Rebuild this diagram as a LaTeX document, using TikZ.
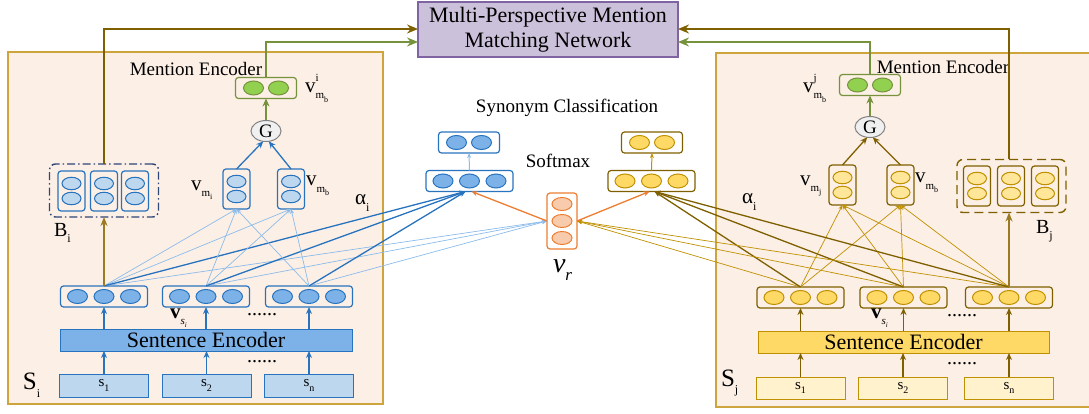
\documentclass[tikz,border=0pt]{standalone}
\usepackage{fontspec}
\setmainfont{Liberation Serif}
\usetikzlibrary{shapes.geometric,arrows.meta,calc}

% palette
\definecolor{panelfill}{RGB}{252,239,230}
\definecolor{panelline}{RGB}{205,165,60}
\definecolor{blueD}{RGB}{40,115,190}
\definecolor{blueM}{RGB}{125,178,232}
\definecolor{blueL}{RGB}{189,215,238}
\definecolor{blueLine}{RGB}{140,188,235}
\definecolor{navyD}{RGB}{47,70,120}
\definecolor{goldD}{RGB}{191,144,0}
\definecolor{brownD}{RGB}{127,96,0}
\definecolor{yelM}{RGB}{255,217,102}
\definecolor{yelL}{RGB}{255,230,153}
\definecolor{yelP}{RGB}{255,242,204}
\definecolor{grnF}{RGB}{146,208,80}
\definecolor{grnD}{RGB}{118,146,60}
\definecolor{orgD}{RGB}{237,125,49}
\definecolor{orgL}{RGB}{248,203,173}
\definecolor{lavF}{RGB}{204,193,218}
\definecolor{lavD}{RGB}{128,100,162}
\definecolor{gateF}{RGB}{240,240,240}
\definecolor{gateD}{RGB}{128,128,128}
\definecolor{feedBr}{RGB}{155,122,35}

% lowered small text for subscripts
\newcommand{\lsub}[2]{\raisebox{-0.3em}{\fontsize{#1}{#1}\selectfont #2}}
\newcommand{\vlab}[1]{v\lsub{11}{m\lsub{8}{#1}}}
\newcommand{\vlabsup}[2]{v\rlap{\raisebox{0.55em}{\fontsize{11}{11}\selectfont #1}}\lsub{11}{m\lsub{8}{#2}}}

% vector boxes: name, cx, cy, box style, cell style
\newcommand{\hvecthree}[5]{%
  \node[vbox,#4,minimum width=87pt,minimum height=21pt] (#1) at (#2,#3) {};
  \foreach \k/\dx in {a/-26.5,b/0,c/26.5}
    \node[#5] (#1\k) at (#2+\dx,#3) {};
}
\newcommand{\hvectwo}[5]{%
  \node[vbox,#4,minimum width=61pt,minimum height=21pt] (#1) at (#2,#3) {};
  \foreach \k/\dx in {a/-12.5,b/12.5}
    \node[#5] (#1\k) at (#2+\dx,#3) {};
}
\newcommand{\vvectwo}[5]{%
  \node[vbox,#4,minimum width=27pt,minimum height=40pt] (#1) at (#2,#3) {};
  \foreach \k/\dy in {a/-7.5,b/7.5}
    \node[#5,minimum width=19pt,minimum height=12.5pt] (#1\k) at (#2,#3+\dy) {};
}

\tikzset{
  x=1pt, y=-1pt,
  every node/.style={inner sep=0pt, outer sep=0pt},
  panel/.style={draw=panelline, fill=panelfill, line width=1.2pt},
  vbox/.style={rectangle, rounded corners=3pt, line width=1.2pt},
  bbox/.style={draw=blueD},
  ybox/.style={draw=brownD},
  gbox/.style={draw=grnD},
  obox/.style={draw=orgD},
  cell/.style={ellipse, line width=1pt, minimum width=20pt, minimum height=14pt},
  bcellM/.style={cell, draw=blueD, fill=blueM},
  bcellL/.style={cell, draw=blueD, fill=blueL},
  ycellM/.style={cell, draw=goldD, fill=yelM},
  ycellL/.style={cell, draw=goldD, fill=yelL},
  gcell/.style={cell, draw=grnD, fill=grnF},
  ocell/.style={cell, draw=orgD, fill=orgL, minimum height=13pt},
  sboxB/.style={rectangle, draw=blueD, fill=blueL, line width=1pt,
    minimum width=89pt, minimum height=23pt, font=\fontsize{15}{15}\selectfont},
  sboxY/.style={rectangle, draw=goldD, fill=yelP, line width=1pt,
    minimum width=89pt, minimum height=22pt, font=\fontsize{15}{15}\selectfont},
  encB/.style={rectangle, draw=blueD, fill=blueM, line width=1pt,
    minimum width=292pt, minimum height=22pt, font=\fontsize{22}{22}\selectfont},
  encY/.style={rectangle, draw=goldD, fill=yelM, line width=1pt,
    minimum width=291pt, minimum height=22pt, font=\fontsize{22}{22}\selectfont},
  bag/.style={rectangle, rounded corners=6pt, line width=1.4pt,
    minimum width=109pt, minimum height=53pt},
  gate/.style={ellipse, draw=gateD, fill=gateF, line width=1pt,
    minimum width=30pt, minimum height=21pt, font=\fontsize{19}{19}\selectfont},
  title/.style={font=\fontsize{19}{19}\selectfont},
  lab/.style={anchor=west, font=\fontsize{21}{21}\selectfont},
  dots/.style={font=\fontsize{20}{20}\selectfont},
  upB/.style={draw=blueD, line width=1.3pt, -{Stealth[length=7pt,width=6pt]}},
  upY/.style={draw=brownD, line width=1.3pt, -{Stealth[length=7pt,width=6pt]}},
  upG/.style={draw=grnD, line width=1.6pt, -{Stealth[length=8pt,width=7pt]}},
  upF/.style={draw=feedBr, line width=1.6pt, -{Stealth[length=9pt,width=7pt]}},
  attB/.style={draw=blueLine, line width=0.7pt, -{Stealth[length=5pt,width=4pt]}},
  attY/.style={draw=goldD, line width=0.7pt, -{Stealth[length=5pt,width=4pt]}},
  clsB/.style={draw=blueD, line width=1.3pt, -{Stealth[length=6pt,width=5pt]}},
  clsY/.style={draw=brownD, line width=1.3pt, -{Stealth[length=6pt,width=5pt]}},
  orgA/.style={draw=orgD, line width=1.3pt, -{Stealth[length=6pt,width=5pt]}},
  feedY/.style={draw=brownD, line width=1.6pt, -{Stealth[length=11pt,width=9pt]}},
  feedG/.style={draw=grnD, line width=1.6pt, -{Stealth[length=11pt,width=9pt]}},
}

\begin{document}
\begin{tikzpicture}
\useasboundingbox (0,0) rectangle (1089,414);
\clip (0,0) rectangle (1089,414);

% ---------- panels ----------
\path[panel] (8,52) rectangle (383,404);
\path[panel] (716,53) rectangle (1095,407);

% ---------- matching network ----------
\node[draw=lavD, fill=lavF, line width=1.2pt, minimum width=260pt, minimum height=55pt,
      align=center, font=\fontsize{22}{25}\selectfont] (mpm) at (548,29.5)
      {Multi-Perspective Mention\\Matching Network};

% ---------- left mention encoder ----------
\node[title] (lme) at (196,69) {Mention Encoder};
\node[sboxB] (ls1) at (104,385.5) {s\lsub{10}{1}};
\node[sboxB] (ls2) at (206.5,385.5) {s\lsub{10}{2}};
\node[sboxB] (lsn) at (309,385.5) {s\lsub{10}{n}};
\node[encB] (lenc) at (206,340) {Sentence Encoder};
\hvecthree{lv1}{104}{296.5}{bbox}{bcellM}
\hvecthree{lv2}{206}{296.5}{bbox}{bcellM}
\hvecthree{lv3}{309}{296.5}{bbox}{bcellM}
\node[bag, draw=navyD, dash pattern=on 8pt off 3pt on 1.5pt off 3pt] (Bi) at (104,190.5) {};
\vvectwo{bi1}{71.5}{191}{bbox}{bcellL}
\vvectwo{bi2}{104}{191}{bbox}{bcellL}
\vvectwo{bi3}{135}{191}{bbox}{bcellL}
\vvectwo{lmi}{236.5}{189}{bbox}{bcellL}
\vvectwo{lmb}{291}{189}{bbox}{bcellL}
\node[gate] (lG) at (266,131) {G};
\hvectwo{lgr}{266}{88}{gbox}{gcell}

\node[anchor=west, font=\fontsize{25}{25}\selectfont] (lSi) at (23,385) {S\lsub{12}{i}};
\node[anchor=west, font=\fontsize{20}{20}\selectfont] (lBi) at (54,233) {B\lsub{12}{i}};
\node[lab] (lvmi) at (191,190) {\vlab{i}};
\node[lab] (lvmb) at (306,186) {\vlab{b}};
\node[lab] (lvmbi) at (305,88) {\vlabsup{i}{b}};
\node[lab] (lalpha) at (355,203) {α\lsub{12}{i}};
\node[lab] (lvsi) at (170,318) {\textbf{v}\lsub{11}{\itshape s\lsub{7}{i}}};
\node[dots] (ldots1) at (262,315) {......};
\node[dots] (ldots2) at (262,362) {......};

% ---------- right mention encoder ----------
\node[title] (rme) at (943,67) {Mention Encoder};
\node[sboxY] (rs1) at (800.5,388) {s\lsub{10}{1}};
\node[sboxY] (rs2) at (903,388) {s\lsub{10}{2}};
\node[sboxY] (rsn) at (1009,388) {s\lsub{10}{n}};
\node[encY] (renc) at (903.5,342) {Sentence Encoder};
\hvecthree{rv1}{800.5}{297.5}{ybox}{ycellM}
\hvecthree{rv2}{903.5}{297.5}{ybox}{ycellM}
\hvecthree{rv3}{1009}{297.5}{ybox}{ycellM}
\node[bag, draw=brownD, dash pattern=on 9pt off 5pt] (Bj) at (1011.5,186) {};
\vvectwo{bj1}{977}{186}{ybox}{ycellL}
\vvectwo{bj2}{1011}{186}{ybox}{ycellL}
\vvectwo{bj3}{1045}{186}{ybox}{ycellL}
\vvectwo{rmj}{842.5}{185}{ybox}{ycellL}
\vvectwo{rmb}{900.5}{185}{ybox}{ycellL}
\node[gate] (rG) at (870,127) {G};
\hvectwo{rgr}{870}{85}{gbox}{gcell}

\node[anchor=west, font=\fontsize{25}{25}\selectfont] (rSj) at (721,383) {S\lsub{12}{j}};
\node[anchor=west, font=\fontsize{20}{20}\selectfont] (rBj) at (1036,231) {B\lsub{12}{j}};
\node[lab] (rvmj) at (800,186) {\vlab{j}};
\node[lab] (rvmb) at (915,183) {\vlab{b}};
\node[lab] (rvmbj) at (803,88) {\vlabsup{j}{b}};
\node[lab] (ralpha) at (742,202) {α\lsub{12}{i}};
\node[lab] (rvsi) at (871,318) {\textbf{v}\lsub{11}{\itshape s\lsub{7}{i}}};
\node[dots] (rdots1) at (962,316) {......};
\node[dots] (rdots2) at (962,364) {......};

% ---------- synonym classification ----------
\node[title] (syn) at (567,108) {Synonym Classification};
\node[title] (smax) at (558,161) {Softmax};
\hvectwo{lout}{469}{142.5}{bbox}{bcellM}
\hvecthree{lcls}{469.5}{181}{bbox}{bcellM}
\hvectwo{rout}{652}{142.5}{ybox}{ycellM}
\hvecthree{rcls}{651.5}{181}{ybox}{ycellM}
\node[vbox, obox, minimum width=30pt, minimum height=56pt] (vr) at (562,221) {};
\foreach \k/\dy in {a/-17,b/0,c/17}
  \node[ocell] (vr\k) at (562,221+\dy) {};
\node[anchor=west, font=\fontsize{28}{28}\selectfont\itshape] (vrlab) at (553,270) {v\lsub{17}{r}};

\coordinate (lclsIn) at ([xshift=-4pt]lcls.south);
\coordinate (lclsOr) at ([xshift=2pt]lcls.south);
\coordinate (rclsIn) at ([xshift=3pt]rcls.south);
\coordinate (rclsOr) at ([xshift=-2pt]rcls.south);

% ---------- connectors: left ----------
\foreach \a/\b in {ls1/lv1, ls2/lv2, lsn/lv3}{
  \draw[upB] (\a.north) -- (\a.north |- lenc.south);
  \draw[upB] (\b.south |- lenc.north) -- (\b.south);
}
\foreach \s in {lv1,lv2,lv3}{
  \draw[attB] (\s.north) -- (lmi.south);
  \draw[attB] (\s.north) -- (lmb.south);
  \draw[attB] (\s.north) -- (vr.west);
  \draw[clsB] (\s.north) -- (lclsIn);
}
\draw[upF] (lv1.north) -- (Bi.south);
\draw[upB] (lmi.north) -- (lG.-105);
\draw[upB] (lmb.north) -- (lG.-75);
\draw[upG] (lG.north) -- (lgr.south);

% ---------- connectors: right ----------
\foreach \a/\b in {rs1/rv1, rs2/rv2, rsn/rv3}{
  \draw[upY] (\a.north) -- (\a.north |- renc.south);
  \draw[upY] (\b.south |- renc.north) -- (\b.south);
}
\foreach \s in {rv1,rv2,rv3}{
  \draw[attY] (\s.north) -- (rmj.south);
  \draw[attY] (\s.north) -- (rmb.south);
  \draw[attY] (\s.north) -- (vr.east);
  \draw[clsY] (\s.north) -- (rclsIn);
}
\draw[upF] (rv3.north) -- (rv3.north |- Bj.south);
\draw[upY] (rmj.north) -- (rG.-105);
\draw[upY] (rmb.north) -- (rG.-75);
\draw[upG] (rG.north) -- (rgr.south);

% ---------- connectors: centre ----------
\draw[orgA] (vr.west) -- (lclsOr);
\draw[orgA] (vr.east) -- (rclsOr);
\draw[draw=blueLine, line width=1pt, -{Stealth[length=5pt,width=4pt]}] (lcls.north) -- (lout.south);
\draw[draw=goldD, line width=1pt, -{Stealth[length=5pt,width=4pt]}] (rcls.north) -- (rout.south);

% ---------- feeds into the matching network ----------
\draw[feedY] (Bi.north) |- ([yshift=0.5pt]mpm.west);
\draw[feedG] (lgr.north) |- ([yshift=-12.5pt]mpm.west);
\draw[feedY] (rv3.north |- Bj.north) |- ([yshift=0.5pt]mpm.east);
\draw[feedG] (rgr.north) |- ([yshift=-12.5pt]mpm.east);
\end{tikzpicture}
\end{document}
